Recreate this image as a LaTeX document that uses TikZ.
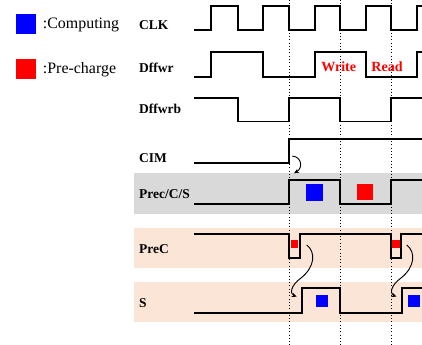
\documentclass[tikz,border=0pt]{standalone}
\usepackage{fontspec}
\setmainfont{Liberation Serif}
\usepackage{xcolor}
\usetikzlibrary{arrows.meta}

\definecolor{peach}{HTML}{FBE5D6}
\definecolor{bandgray}{HTML}{D9D9D9}

\begin{document}
\begin{tikzpicture}[
  x=0.03cm, y=-0.03cm,
  >={Stealth[length=1.5mm, width=1.3mm]},
  every node/.style={inner sep=0pt},
  sig/.style={line width=1.5pt, line join=miter},
  siglabel/.style={anchor=west, font=\fontsize{11.5}{12}\selectfont\bfseries},
  legend/.style={anchor=west, font=\fontsize{13.6}{14}\selectfont},
  phase/.style={text=red, font=\fontsize{12}{12}\selectfont\bfseries},
  grid/.style={dotted, line width=0.8pt},
  curl/.style={->, line width=0.8pt},
  compsq/.style={fill=blue, minimum size=#1},
  precsq/.style={fill=red, minimum size=#1}
]
\useasboundingbox (0,0) rectangle (422,345);

% bands
\fill[bandgray] (134,173.3) rectangle (422,214.3);
\fill[peach] (134,228.3) rectangle (422,268.3);
\fill[peach] (134,282.3) rectangle (422,322.3);

% legend
\node[compsq=0.6cm] (lgcomp) at (26,24.5) {};
\node[legend] (lgcomptxt) at (42.7,24.5) {:Computing};
\node[precsq=0.6cm] (lgprec) at (26,69.5) {};
\node[legend] (lgprectxt) at (42.7,69.5) {:Pre-charge};

% signal names
\node[siglabel] (clk) at (139,25) {CLK};
\node[siglabel] (dffwr) at (139,68) {Dffwr};
\node[siglabel] (dffwrb) at (139,109) {Dffwrb};
\node[siglabel] (cim) at (139,157.7) {CIM};
\node[siglabel] (precs) at (139,194) {Prec/C/S};
\node[siglabel] (prec) at (139,249) {PreC};
\node[siglabel] (s) at (139,303.3) {S};

% phases
\node[phase] (write) at (338.7,66.7) {Write};
\node[phase] (read) at (387,66.7) {Read};

% timing marks
\draw[grid] (289.3,0) -- (289.3,345);
\draw[grid] (340,0) -- (340,345);
\draw[grid] (391,0) -- (391,345);

% waveforms
\draw[sig] (194,30) -- (211,30) -- (211,6) -- (238,6) -- (238,30) -- (263,30) -- (263,6) -- (289.3,6) -- (289.3,30) -- (315,30) -- (315,6) -- (340,6) -- (340,30) -- (366,30) -- (366,6) -- (391,6) -- (391,30) -- (417,30) -- (417,6) -- (423,6);
\draw[sig] (194,77.3) -- (211,77.3) -- (211,52.3) -- (263,52.3) -- (263,77.3) -- (315,77.3) -- (315,52.3) -- (366,52.3) -- (366,77.3) -- (417,77.3) -- (417,52.3) -- (423,52.3);
\draw[sig] (194,97.7) -- (238,97.7) -- (238,121.5) -- (289.3,121.5) -- (289.3,97.7) -- (340,97.7) -- (340,121.5) -- (391,121.5) -- (391,97.7) -- (423,97.7);
\draw[sig] (194,162.7) -- (289.3,162.7) -- (289.3,139) -- (423,139);
\draw[sig] (194,204.3) -- (289.3,204.3) -- (289.3,180) -- (340,180) -- (340,204.3) -- (391,204.3) -- (391,180) -- (423,180);
\draw[sig] (194,234.3) -- (289.3,234.3) -- (289.3,258.3) -- (300,258.3) -- (300,234.3) -- (391,234.3) -- (391,258.3) -- (401,258.3) -- (401,234.3) -- (423,234.3);
\draw[sig] (194,312.7) -- (302,312.7) -- (302,287.7) -- (340,287.7) -- (340,312.7) -- (402,312.7) -- (402,287.7) -- (423,287.7);

% computing / pre-charge marks
\node[compsq=0.51cm] (comp1) at (314,192.3) {};
\node[precsq=0.48cm] (prech1) at (364.5,192.3) {};
\node[precsq=0.23cm] (pre1) at (294.5,244) {};
\node[precsq=0.23cm] (pre2) at (395.8,244) {};
\node[compsq=0.36cm] (comp2) at (321.7,300.5) {};
\node[compsq=0.36cm] (comp3) at (414,300.5) {};

% causal arrows
\coordinate (cimfrom) at (292.3,156);
\coordinate (cimto) at (294,173.3);
\coordinate (pfrom1) at (306.7,245);
\coordinate (pto1) at (296.7,296.7);
\coordinate (pfrom2) at (406.7,245);
\coordinate (pto2) at (396.5,296.7);
\draw[curl] (cimfrom) .. controls (302,157) and (303,168) .. (cimto);
\draw[curl] (pfrom1) .. controls (316,252) and (315,267) .. (301,278) .. controls (290,286) and (290,294) .. (pto1);
\draw[curl] (pfrom2) .. controls (416,252) and (415,267) .. (401,278) .. controls (390,286) and (390,294) .. (pto2);

\end{tikzpicture}
\end{document}
